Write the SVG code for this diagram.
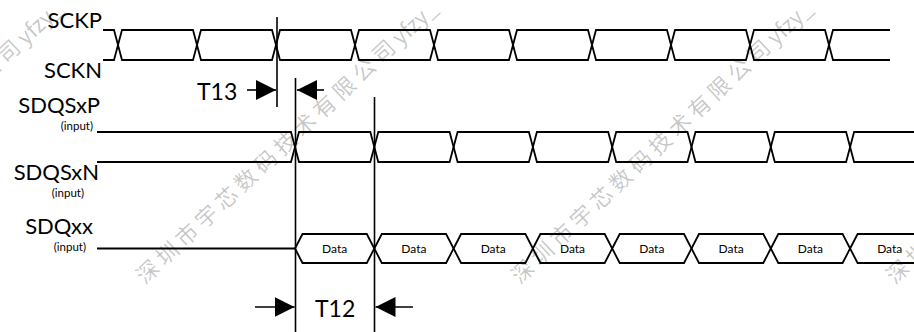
<svg xmlns="http://www.w3.org/2000/svg" xmlns:xlink="http://www.w3.org/1999/xlink" width="914" height="332" viewBox="0 0 914 332">
<style>
.sig{fill:none;stroke:#000;stroke-width:1.8;stroke-linejoin:miter}
.lbl{font-family:Lato,"Liberation Sans",sans-serif;font-size:22px;fill:#000;text-anchor:end}
.sub{font-family:Lato,"Liberation Sans",sans-serif;font-size:11.5px;fill:#000;text-anchor:end}
.dt{font-family:Lato,"Liberation Sans",sans-serif;font-size:12px;fill:#000;text-anchor:middle}
.tm{font-family:Lato,"Liberation Sans",sans-serif;font-size:23px;fill:#000}
.dim{stroke:#000;stroke-width:1.6;fill:none}
.wm{font-family:"Noto Sans CJK SC","Noto Sans",sans-serif;font-size:22px;letter-spacing:4.9px;fill:#000;fill-opacity:0.22}
.wl{letter-spacing:0px}
</style>
<defs>
<path id="ck" class="sig" d="M0,45 L4,30 H75 L79,45 L75,60 H4 Z"/>
<path id="dqs" class="sig" d="M0,147 L4,132 H75.3 L79.3,147 L75.3,162 H4 Z"/>
<path id="dq" class="sig" d="M0,248.5 L7.5,234 H71.8 L79.3,248.5 L71.8,263 H7.5 Z"/>
<marker id="ah" markerUnits="userSpaceOnUse" markerWidth="20" markerHeight="20" refX="20" refY="10" orient="auto">
<path d="M0,0 L20,10 L0,20 Z" fill="#000"/>
</marker>
</defs>

<g id="sck">
<text class="lbl" x="102" y="28">SCKP</text>
<text class="lbl" x="102" y="78">SCKN</text>
<path class="sig" d="M103,30 H114 L118,45 L114,60 H103"/>
<use xlink:href="#ck" x="118"/>
<use xlink:href="#ck" x="197"/>
<use xlink:href="#ck" x="276"/>
<use xlink:href="#ck" x="355"/>
<use xlink:href="#ck" x="434"/>
<use xlink:href="#ck" x="513"/>
<use xlink:href="#ck" x="592"/>
<use xlink:href="#ck" x="671"/>
<use xlink:href="#ck" x="750"/>
<path class="sig" d="M890,30 H833 L829,45 L833,60 H890"/>
</g>

<g id="sdqs">
<text class="lbl" x="100" y="113">SDQSxP</text>
<text class="sub" x="93" y="130">(input)</text>
<text class="lbl" x="99" y="180">SDQSxN</text>
<text class="sub" x="84" y="197">(input)</text>
<path class="sig" d="M97,132 H291 L295,147 L291,162 H97"/>
<use xlink:href="#dqs" x="295"/>
<use xlink:href="#dqs" x="374.3"/>
<use xlink:href="#dqs" x="453.6"/>
<use xlink:href="#dqs" x="532.9"/>
<use xlink:href="#dqs" x="612.2"/>
<use xlink:href="#dqs" x="691.5"/>
<use xlink:href="#dqs" x="770.8"/>
<path class="sig" d="M914,132 H854.1 L850.1,147 L854.1,162 H914"/>
</g>

<g id="sdq">
<text class="lbl" x="93" y="234">SDQxx</text>
<text class="sub" x="86" y="251">(input)</text>
<path class="sig" d="M97,248.5 H295"/>
<use xlink:href="#dq" x="295"/>
<use xlink:href="#dq" x="374.3"/>
<use xlink:href="#dq" x="453.6"/>
<use xlink:href="#dq" x="532.9"/>
<use xlink:href="#dq" x="612.2"/>
<use xlink:href="#dq" x="691.5"/>
<use xlink:href="#dq" x="770.8"/>
<use xlink:href="#dq" x="850.1"/>
<text class="dt" x="334.6" y="253">Data</text>
<text class="dt" x="413.9" y="253">Data</text>
<text class="dt" x="493.2" y="253">Data</text>
<text class="dt" x="572.5" y="253">Data</text>
<text class="dt" x="651.8" y="253">Data</text>
<text class="dt" x="731.1" y="253">Data</text>
<text class="dt" x="810.4" y="253">Data</text>
<text class="dt" x="889.7" y="253">Data</text>
</g>

<g id="connectors">
<line class="dim" x1="277" y1="17" x2="277" y2="107"/>
<line class="dim" x1="295.5" y1="78" x2="295.5" y2="332"/>
<line class="dim" x1="374.5" y1="97" x2="374.5" y2="332"/>
<line class="dim" x1="247" y1="90" x2="276" y2="90" marker-end="url(#ah)"/>
<line class="dim" x1="324" y1="90" x2="297" y2="90" marker-end="url(#ah)"/>
<line class="dim" x1="255" y1="307" x2="294.5" y2="307" marker-end="url(#ah)"/>
<line class="dim" x1="413" y1="307" x2="375.5" y2="307" marker-end="url(#ah)"/>
<text class="tm" x="197" y="100">T13</text>
<text class="tm" x="315" y="317">T12</text>
</g>

<g id="watermark">
<text class="wm" transform="translate(-230,285) rotate(-43)">深圳市宇芯数码技术有限公司<tspan class="wl">yfzy_</tspan></text>
<text class="wm" transform="translate(145,285) rotate(-43)">深圳市宇芯数码技术有限公司<tspan class="wl">yfzy_</tspan></text>
<text class="wm" transform="translate(520,285) rotate(-43)">深圳市宇芯数码技术有限公司<tspan class="wl">yfzy_</tspan></text>
<text class="wm" transform="translate(895,285) rotate(-43)">深圳市宇芯数码技术有限公司<tspan class="wl">yfzy_</tspan></text>
</g>
</svg>
